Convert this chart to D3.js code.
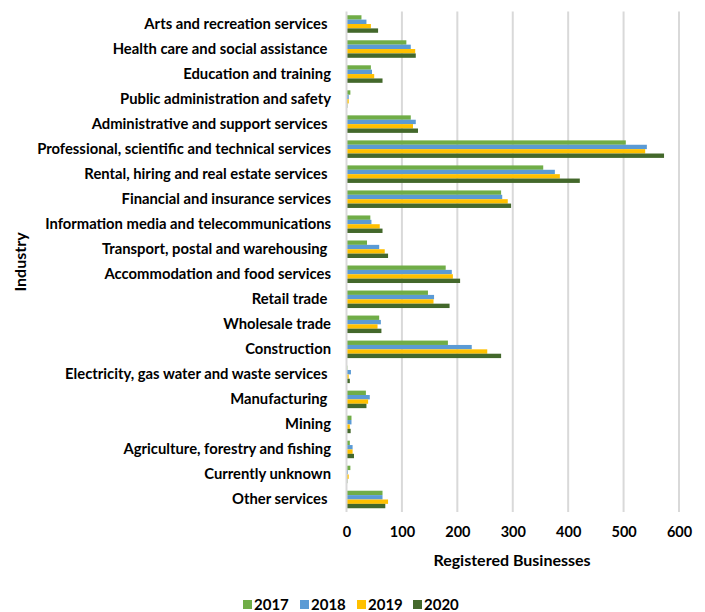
<!DOCTYPE html>
<html><head><meta charset="utf-8">
<script src="https://cdn.jsdelivr.net/npm/d3@7"></script>
<style>
body{margin:0;background:#fff;}
text{font-family:Lato,"Open Sans",sans-serif;font-weight:bold;fill:#000;white-space:pre;}
</style></head>
<body>
<svg id="c" width="705" height="612"></svg>
<script>
const categories = [
 "Arts and recreation services ",
 "Health care and social assistance ",
 "Education and training",
 "Public administration and safety",
 "Administrative and support services ",
 "Professional, scientific and technical services",
 "Rental, hiring and real estate services ",
 "Financial and insurance services",
 "Information media and telecommunications",
 "Transport, postal and warehousing ",
 "Accommodation and food services",
 "Retail trade ",
 "Wholesale trade",
 "Construction",
 "Electricity, gas water and waste services ",
 "Manufacturing ",
 "Mining",
 "Agriculture, forestry and fishing",
 "Currently unknown",
 "Other services "
];
const years = ["2017","2018","2019","2020"];
const v2017 = [27,108,44,7,116,504,355,279,43,37,179,147,59,183,1.5,35,9,6,7,65];
const v2018 = [36,116,46,4,125,542,376,281,45,59,190,158,62,226,8,42,9,11,2.5,65];
const v2019 = [44,124,50,4,120,539,385,291,60,69,192,157,56,254,4,39,6,11,4,75];
const v2020 = [57,125,65,1.5,129,573,421,297,65,75,205,186,63,279,6,36,7.5,13.5,1.5,70];
const xTicks = [0,100,200,300,400,500,600];
const colors = ["#70ad47","#5b9bd5","#ffc000","#43682b"];

const series = [v2017,v2018,v2019,v2020];
const svg = d3.select("#c");
const mL = 346.5, mR = 679, mT = 11.5, mB = 512;
const x = d3.scaleLinear().domain([0,600]).range([mL,mR]);
const y = d3.scaleBand().domain(categories).range([mT,mB]).paddingInner(0.3).paddingOuter(0.15);
const y1 = d3.scaleBand().domain(years).range([0,y.bandwidth()]);
const color = d3.scaleOrdinal().domain(years).range(colors);

// gridlines
svg.append("g").selectAll("line").data(xTicks.slice(1)).join("line")
 .attr("x1",d=>x(d)).attr("x2",d=>x(d)).attr("y1",mT).attr("y2",mB)
 .attr("stroke","#d9d9d9").attr("stroke-width",2);

// bars
const g = svg.append("g");
categories.forEach((c,i)=>{
  years.forEach((yr,j)=>{
    g.append("rect").attr("x",x(0)).attr("y",y(c)+y1(yr))
     .attr("width",x(series[j][i])-x(0)).attr("height",y1.bandwidth())
     .attr("fill",color(yr));
  });
});

// y axis line
svg.append("line").attr("x1",x(0)).attr("x2",x(0)).attr("y1",mT).attr("y2",mB)
 .attr("stroke","#d9d9d9").attr("stroke-width",2);

// category labels
const yAxis = d3.axisLeft(y).tickSize(0).tickPadding(0);
const ya = svg.append("g").attr("transform","translate(331,0)").call(yAxis);
ya.select(".domain").remove();
ya.selectAll("text").style("font-size","14.8px").style("font-family","Lato").style("font-weight","bold").attr("fill","#000");

// x axis
const xAxis = d3.axisBottom(x).tickValues(xTicks).tickSize(0).tickPadding(0);
const xa = svg.append("g").attr("transform","translate(0,527)").call(xAxis);
xa.select(".domain").remove();
xa.selectAll("text").style("font-size","14.5px").style("font-family","Lato").style("font-weight","bold").attr("fill","#000");

// axis titles
svg.append("text").attr("x",512).attr("y",566).attr("text-anchor","middle")
 .style("font-size","16px").text("Registered Businesses");
svg.append("text").attr("transform","translate(26,262) rotate(-90)").attr("text-anchor","middle")
 .style("font-size","16px").text("Industry");

// legend
const legX = [243,300,357,413];
const lg = svg.append("g");
years.forEach((yr,j)=>{
  lg.append("rect").attr("x",legX[j]).attr("y",600).attr("width",9).attr("height",9).attr("fill",color(yr));
  lg.append("text").attr("x",legX[j]+11).attr("y",610).style("font-size","15px").text(yr);
});
</script>
</body></html>
